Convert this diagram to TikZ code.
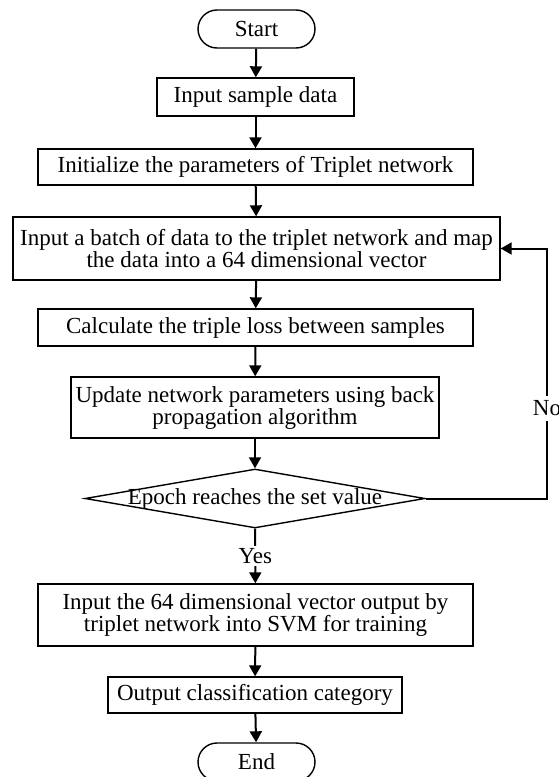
\documentclass[tikz,border=0pt]{standalone}
\usepackage{fontspec}
\setmainfont{Liberation Serif}
\usetikzlibrary{arrows.meta,shapes.geometric}

\begin{document}
\begin{tikzpicture}[x=0.5pt,y=-0.5pt,
    font=\fontsize{11.5}{11}\selectfont,
    box/.style={draw,line width=0.7pt,inner sep=0pt,align=center},
    term/.style={box,rounded corners=9.5pt},
    flow/.style={draw,line width=1pt,-{Triangle[length=5.5pt,width=6pt]}}]

      \useasboundingbox (0,0) rectangle (558,777);

      \begin{scope}[every node/.style={box}]
        \node[term,minimum width=58.5pt,minimum height=19pt] (start) at (256.5,29) {Start};
        \node[minimum width=98.5pt,minimum height=19pt] (input) at (255.5,97) {Input sample data};
        \node[minimum width=217.5pt,minimum height=18pt] (init) at (255.5,167) {Initialize the parameters of Triplet network};
        \node[minimum width=243.5pt,minimum height=31.5pt] (batch) at (256.5,248.5) {Input a batch of data to the triplet network and map\\the data into a 64 dimensional vector};
        \node[minimum width=217.5pt,minimum height=18.5pt] (calc) at (255.5,327.5) {Calculate the triple loss between samples};
        \node[minimum width=184pt,minimum height=30.5pt] (update) at (255,407.5) {Update network parameters using back\\propagation algorithm};
        \node[diamond,minimum width=170pt,minimum height=29.5pt] (epoch) at (255,498.5) {\makebox[0pt]{Epoch reaches the set value}};
        \node[minimum width=217.5pt,minimum height=31pt] (svm) at (255.5,615) {Input the 64 dimensional vector output by\\triplet network into SVM for training};
        \node[minimum width=147pt,minimum height=18pt] (output) at (255,695) {Output classification category};
        \node[term,minimum width=58.5pt,minimum height=19pt] (end) at (256.5,762) {End};
      \end{scope}

      \coordinate (loop) at (547,498.5);

      \begin{scope}[every edge/.style={flow}]
        \path (start) edge (input);
        \path (input) edge (init);
        \path (init) edge (batch);
        \path (batch) edge (calc);
        \path (calc) edge (update);
        \path (update) edge (epoch);
        \path (epoch) edge node[fill=white,inner sep=1pt] {Yes} (svm);
        \path (svm) edge (output);
        \path (output) edge (end);
      \end{scope}

      \draw[flow] (epoch.east) -- (loop) |- node[pos=0.18,fill=white,inner sep=2.5pt] {No} (batch.east);

    \end{tikzpicture}
\end{document}
